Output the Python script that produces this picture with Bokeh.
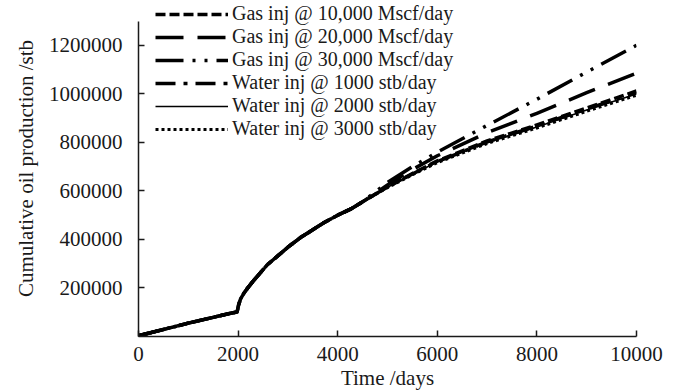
from bokeh.plotting import figure
from bokeh.models import Legend, LegendItem, Title, FixedTicker
from bokeh.embed import file_html
from bokeh.resources import INLINE

# Shared history: primary depletion, then injection start near day 1980
days_early = [0, 500, 1000, 1500, 1850, 1980, 2010, 2050, 2115, 2200, 2310,
              2584, 3000, 3253, 3500, 3721, 4000, 4257, 4500]
cum_early = [3000, 29000, 55000, 79000, 96000, 101000, 130000, 155000, 178000,
             202000, 230000, 295000, 368000, 408000, 440000, 469000, 500000,
             525000, 555000]

# Forecast period, per injection case
days_late = [5000, 5500, 6000, 7000, 8000, 9000, 10000]
gas_10000 = [617000, 672000, 724000, 806000, 872000, 942000, 1012000]
gas_20000 = [625000, 688000, 745000, 840000, 920000, 1005000, 1085000]
gas_30000 = [635000, 700000, 760000, 870000, 978000, 1090000, 1200000]
water_1000 = [616000, 670000, 721000, 802000, 868000, 938000, 1006000]
water_2000 = [615000, 669000, 719000, 799000, 864000, 934000, 1000000]
water_3000 = [614000, 667000, 717000, 796000, 860000, 929000, 995000]

labels = ["Gas inj @ 10,000 Mscf/day", "Gas inj @ 20,000 Mscf/day",
          "Gas inj @ 30,000 Mscf/day", "Water inj @ 1000 stb/day",
          "Water inj @ 2000 stb/day", "Water inj @ 3000 stb/day"]
series = [gas_10000, gas_20000, gas_30000, water_1000, water_2000, water_3000]
dashes = ["10 4", "28 14", "28 9 3 9 3 9", "20 8 4 8", "solid", "3 3"]
widths = [3.5, 3.5, 3.5, 3.5, 1.6, 3.2]

x_ticks = [0, 2000, 4000, 6000, 8000, 10000]
y_ticks = [200000, 400000, 600000, 800000, 1000000, 1200000]

FONT = "Liberation Serif"
INK = "#1a1a1a"

# headroom above the axis so the legend can sit above its top end
p = figure(width=687, height=392, x_range=(0, 10000), y_range=(0, 1385000),
           output_backend="svg", toolbar_location=None,
           min_border_left=138, min_border_right=51, min_border_top=0,
           min_border_bottom=56)
p.outline_line_color = None
p.xgrid.visible = False
p.ygrid.visible = False
p.background_fill_color = "white"
p.border_fill_color = "white"

items = []
for lab, ys, dash, w in zip(labels, series, dashes, widths):
    r = p.line(days_early + days_late, cum_early + ys, line_color="black",
               line_width=w, line_dash=dash, line_join="round")
    items.append(LegendItem(label=lab, renderers=[r]))

# axes
for ax in (p.xaxis[0], p.yaxis[0]):
    ax.axis_line_color = INK
    ax.axis_line_width = 1.5
    ax.major_tick_line_color = INK
    ax.major_tick_line_width = 1.5
    ax.major_tick_in = 6
    ax.major_tick_out = 0
    ax.minor_tick_line_color = None
    ax.major_label_text_font = FONT
    ax.major_label_text_font_size = "21px"
    ax.major_label_text_color = INK

p.yaxis.bounds = (0, 1300000)
p.xaxis.ticker = FixedTicker(ticks=x_ticks)
p.yaxis.ticker = FixedTicker(ticks=y_ticks)
p.xaxis.major_label_standoff = 10
p.yaxis.major_label_standoff = 16
p.yaxis.formatter.use_scientific = False

p.yaxis.axis_label = "Cumulative oil production /stb"
p.yaxis.axis_label_text_font = FONT
p.yaxis.axis_label_text_font_size = "21px"
p.yaxis.axis_label_text_font_style = "normal"
p.yaxis.axis_label_text_color = INK
p.yaxis.axis_label_standoff = 8

# x-axis title, set slightly right of centre
p.add_layout(Title(text="Time /days", align="center", offset=26, standoff=0,
                   text_font=FONT, text_font_size="21px",
                   text_font_style="normal", text_color=INK), "below")

legend = Legend(items=items, location=(17, 196), orientation="vertical",
                background_fill_alpha=0, border_line_color=None,
                padding=0, margin=0, spacing=0,
                glyph_width=73, glyph_height=22, label_height=22,
                label_standoff=4,
                label_text_font=FONT, label_text_font_size="20px",
                label_text_color=INK)
p.add_layout(legend, "center")

open("out.html", "w").write(file_html(p, INLINE))
